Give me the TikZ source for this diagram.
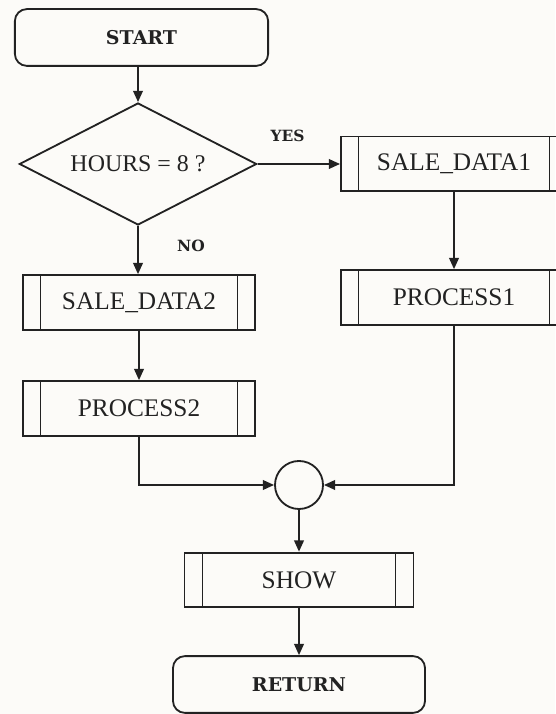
\documentclass[tikz,border=0pt]{standalone}
\usepackage{fontspec}
\setmainfont{Liberation Serif}
\newfontfamily\slabfont{DejaVu Serif}
\usetikzlibrary{arrows.meta,positioning,calc,shapes.geometric}
\definecolor{ink}{HTML}{222222}
\definecolor{paper}{HTML}{FCFBF8}
\tikzset{
  line/.style={draw=ink, line width=1.3pt, text=ink},
  term/.style={line, rounded corners=0.3cm, minimum height=1.42cm, font=\slabfont\bfseries\fontsize{13.5}{16}\selectfont},
  subproc/.style={line, minimum height=1.37cm, inner sep=0pt, font=\fontsize{18}{21}\selectfont,
    path picture={
      \draw[ink, line width=0.9pt] ([xshift=0.44cm]path picture bounding box.north west) -- ([xshift=0.44cm]path picture bounding box.south west);
      \draw[ink, line width=0.9pt] ([xshift=-0.44cm]path picture bounding box.north east) -- ([xshift=-0.44cm]path picture bounding box.south east);
    }},
  decide/.style={line, diamond, aspect=1.94, inner sep=0pt, minimum width=5.93cm, minimum height=3.05cm, font=\fontsize{17}{20}\selectfont},
  joint/.style={line, circle, minimum size=1.2cm, inner sep=0pt},
  arr/.style={-{Triangle[length=2.8mm,width=2.4mm]}, line width=1.3pt, draw=ink},
  lab/.style={font=\slabfont\bfseries\fontsize{11}{13}\selectfont, text=ink},
}
\begin{document}
\begin{tikzpicture}[x=0.025cm,y=0.025cm]
  \fill[paper] (0,0) rectangle (555,714);
  \useasboundingbox (0,0) rectangle (555,714);
  % left column
  \node[term, minimum width=6.33cm] (start) at (141.5,676.5) {START};
  \node[decide] (dec) at (138,550) {HOURS = 8 ?};
  \node[subproc, minimum width=5.8cm] (sdb) at (139,411.5) {SALE\_DATA2};
  \node[subproc, minimum width=5.8cm] (prb) at (139,305.5) {PROCESS2};
  % right column
  \node[subproc, minimum width=5.65cm] (sda) at (454,550) {SALE\_DATA1};
  \node[subproc, minimum width=5.65cm] (pra) at (454,416.5) {PROCESS1};
  % bottom
  \node[joint] (join) at (299,229) {};
  \node[subproc, minimum width=5.72cm] (show) at (299,134) {SHOW};
  \node[term, minimum width=6.3cm] (ret) at (299,29.5) {RETURN};
  \node[lab] (yes) at (287.5,578.5) {YES};
  \node[lab] (no) at (191,468.5) {NO};
  % flow
  \draw[arr] (start.south -| dec.north) -- (dec.north);
  \draw[arr] (dec.east) -- (sda.west);
  \draw[arr] (dec.south) -- (dec.south |- sdb.north);
  \draw[arr] (sda) -- (pra);
  \draw[arr] (sdb) -- (prb);
  \draw[arr] (prb.south) |- (join.west);
  \draw[arr] (pra.south) |- (join.east);
  \draw[arr] (join) -- (show);
  \draw[arr] (show) -- (ret);
\end{tikzpicture}
\end{document}
